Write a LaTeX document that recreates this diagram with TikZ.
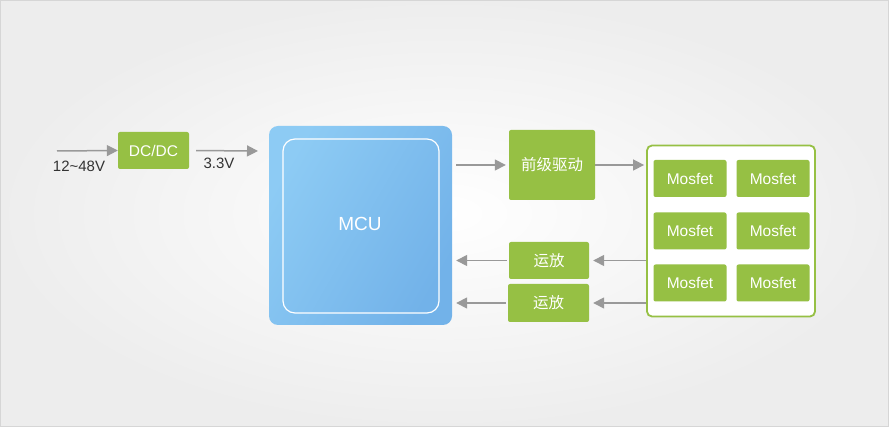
\documentclass[tikz,border=0pt]{standalone}
\usepackage{fontspec}
\setmainfont{Liberation Sans}
\newfontfamily\cjk{Noto Sans CJK SC}
\usetikzlibrary{arrows.meta,calc}
\definecolor{gbox}{HTML}{96C044}
\definecolor{arrgray}{HTML}{999999}
\definecolor{txt}{HTML}{333333}
\definecolor{bluel}{HTML}{8DCBF4}
\definecolor{blued}{HTML}{72B2E9}
\definecolor{frame}{HTML}{D6D6D6}
\begin{document}
\begin{tikzpicture}[x=1pt,y=-1pt,
  gbox/.style={draw=none,fill=gbox,rounded corners=2pt,text=white,inner sep=0pt,font=\fontsize{15.5}{17}\selectfont},
  arr/.style={draw=arrgray,line width=1.5pt,-{Triangle[width=11pt,length=11pt]}},
  lbl/.style={text=txt,font=\fontsize{15}{17}\selectfont,inner sep=0pt}]
% background
\useasboundingbox (0,0) rectangle (889,427);
\shade[inner color=white,outer color=black!7] (0,0) rectangle (889,427);
\draw[frame,line width=1pt] (0.5,0.5) rectangle (888.5,426.5);
% DC/DC
\node[gbox,minimum width=71pt,minimum height=37pt] (dcdc) at (153.5,150.5) {DC/DC};
\coordinate (vin) at (57,151);
\coordinate (vout) at (258,151);
\draw[arr] (vin) -- (dcdc.west);
\draw[arr,shorten <=7pt] (dcdc.east) -- (vout);
\node[lbl] (l1) at (79,166) {12\textasciitilde48V};
\node[lbl] (l2) at (219,163) {3.3V};
% MCU
\node[rounded corners=9pt,left color=bluel,right color=blued,shading angle=60,minimum width=183pt,minimum height=199pt,inner sep=0pt] (mcu) at (360.5,225.5) {};
\node[draw=white,line width=1.2pt,rounded corners=12pt,minimum width=156pt,minimum height=174pt,inner sep=0pt] (mcuin) at (361,226) {};
\node[text=white,font=\fontsize{19}{21}\selectfont] (mcut) at (360,224) {MCU};
% driver
\node[gbox,minimum width=86pt,minimum height=70pt,font=\cjk\fontsize{15.5}{17}\selectfont] (drv) at (552,165) {前级驱动};
% container
\node[draw=gbox,line width=1.8pt,fill=white,rounded corners=5pt,minimum width=168pt,minimum height=171pt,inner sep=0pt] (cont) at (731,231) {};
\foreach \i/\y in {1/178.5,2/231,3/283}{
  \node[gbox,minimum width=73pt,minimum height=37pt] (m\i a) at (690,\y) {Mosfet};
  \node[gbox,minimum width=73pt,minimum height=37pt] (m\i b) at (773,\y) {Mosfet};
}
% op amps
\node[gbox,minimum width=80pt,minimum height=37pt,font=\cjk\fontsize{15.5}{17}\selectfont] (op1) at (549,260.5) {运放};
\node[gbox,minimum width=81pt,minimum height=38pt,font=\cjk\fontsize{15.5}{17}\selectfont] (op2) at (548.5,303) {运放};
% arrows
\draw[arr,shorten <=4pt,shorten >=3pt] (mcu.east |- drv.west) -- (drv.west);
\draw[arr,shorten >=2pt] (drv.east) -- (cont.west |- drv.east);
\draw[arr,shorten >=4pt] (cont.west |- op1.east) -- (op1.east);
\draw[arr,shorten >=4pt] (cont.west |- op2.east) -- (op2.east);
\draw[arr,shorten >=4pt,shorten <=2pt] (op1.west) -- (mcu.east |- op1.west);
\draw[arr,shorten >=4pt,shorten <=2pt] (op2.west) -- (mcu.east |- op2.west);
\end{tikzpicture}
\end{document}
